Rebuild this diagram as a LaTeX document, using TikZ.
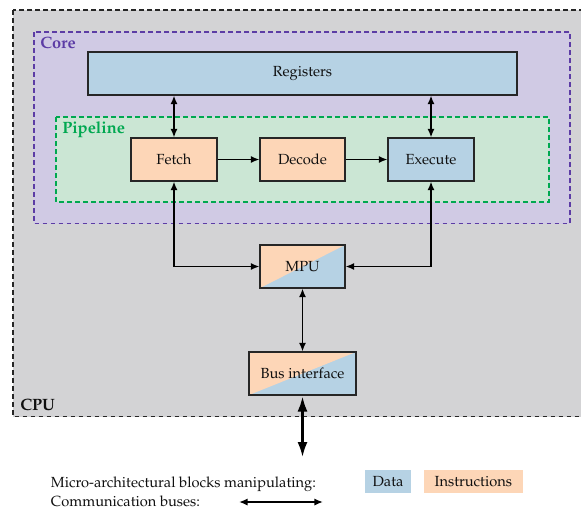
\documentclass[tikz,border=0pt]{standalone}
\usepackage[T1]{fontenc}
\usepackage{mathpazo}
\usetikzlibrary{arrows.meta}
\definecolor{cpugray}{RGB}{211,211,213}
\definecolor{corefill}{RGB}{208,202,228}
\definecolor{coreline}{RGB}{92,60,165}
\definecolor{pipefill}{RGB}{203,230,212}
\definecolor{pipeline}{RGB}{0,168,80}
\definecolor{datablue}{RGB}{182,210,228}
\definecolor{instrorange}{RGB}{253,214,183}
\definecolor{txt}{RGB}{15,15,15}
\tikzset{
  blk/.style={draw=black!85, line width=0.8pt, inner sep=0pt, text=txt, minimum height=32.25pt},
  datablk/.style={blk, fill=datablue},
  instrblk/.style={blk, fill=instrorange},
  mixblk/.style={blk, path picture={
     \fill[datablue] (path picture bounding box.south west) rectangle (path picture bounding box.north east);
     \fill[instrorange] (path picture bounding box.south west) -- (path picture bounding box.north west) -- (path picture bounding box.north east) -- cycle;}},
  bus/.style={line width=1.4pt, {Latex[length=6.5pt,width=5.5pt]}-{Latex[length=6.5pt,width=5.5pt]}},
  onebus/.style={line width=1.4pt, -{Latex[length=6.5pt,width=5.5pt]}},
  bigbus/.style={line width=2.7pt, {Latex[length=12pt,width=7.5pt]}-{Latex[length=12pt,width=7.5pt]}},
  zone/.style={line width=1.2pt, dash pattern=on 3.5pt off 2.5pt},
  zonelbl/.style={anchor=base west, inner sep=0pt, font=\fontsize{12.3}{14}\selectfont\bfseries},
  leg/.style={anchor=base west, inner sep=0pt, text=txt},
  legbox/.style={inner sep=0pt, text=txt, minimum height=16.9pt}
}
\begin{document}
\begin{tikzpicture}[x=0.75pt,y=-0.75pt, every node/.append style={font=\fontsize{11}{13}\selectfont}]
\useasboundingbox (0,0) rectangle (581,511);
\begin{scope}
\clip (0,0) rectangle (581,511);
\draw[zone, draw=black!85, fill=cpugray] (13,10) rectangle (600,416.5);
\end{scope}
\node[zonelbl, text=txt] (cpulbl) at (20,410) {CPU};
\draw[zone, draw=coreline, fill=corefill] (34,32) rectangle (570,223.5);
\node[zonelbl, text=coreline] (corelbl) at (40,48.5) {Core};
\node[datablk, minimum width=321.75pt] (reg) at (302.5,73.5) {Registers};
\draw[zone, draw=pipeline, fill=pipefill] (56,117) rectangle (549,202);
\node[zonelbl, text=pipeline] (pipelbl) at (62,133.5) {Pipeline};
\node[instrblk, minimum width=64.5pt] (fetch) at (174,159.5) {Fetch};
\node[instrblk, minimum width=63.75pt] (decode) at (302.5,159.5) {Decode};
\node[datablk, minimum width=64.5pt] (exec) at (431,159.5) {Execute};
\node[mixblk, minimum width=63.75pt] (mpu) at (302.5,266.5) {MPU};
\node[mixblk, minimum width=80.25pt] (busif) at (302.5,373.5) {Bus interface};
\coordinate (ext) at (302.5,458);
% connectors
\draw[bus] (fetch.north) -- (fetch.north |- reg.south);
\draw[bus] (exec.north) -- (exec.north |- reg.south);
\draw[onebus] (fetch) -- (decode);
\draw[onebus] (decode) -- (exec);
\draw[bus] (fetch.south) |- (mpu.west);
\draw[bus] (exec.south) |- (mpu.east);
\draw[bus] (mpu.south) -- (busif.north);
\draw[bigbus] (busif.south) -- (ext);
% legend
\node[leg] (leg1) at (50.7,487) {Micro-architectural blocks manipulating:};
\node[legbox, fill=datablue, minimum width=34.5pt] (legdata) at (388,481.25) {Data};
\node[legbox, fill=instrorange, minimum width=74pt] (leginstr) at (473.35,481.25) {Instructions};
\node[leg] (leg2) at (50.7,506.5) {Communication buses:};
\coordinate (la) at (239,502);
\coordinate (lb) at (323,502);
\draw[bus] (la) -- (lb);
\end{tikzpicture}
\end{document}
